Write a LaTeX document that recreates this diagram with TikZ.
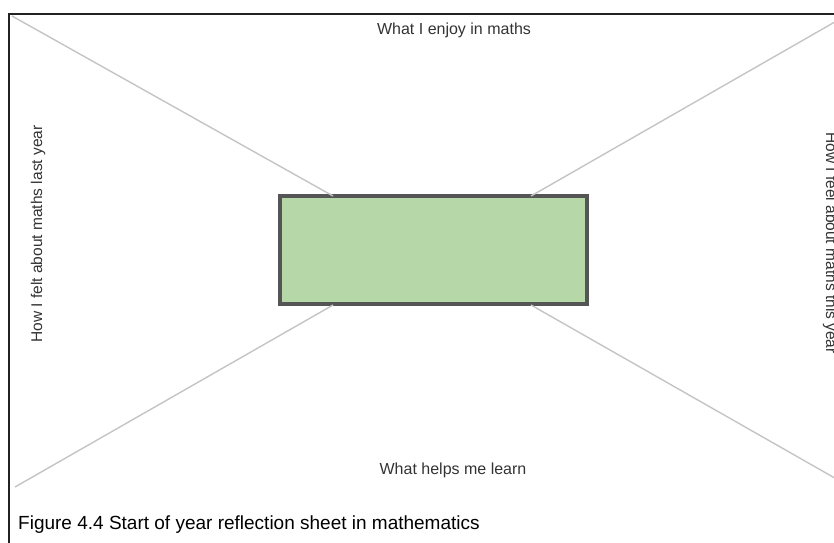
\documentclass[tikz,border=0pt]{standalone}
\usepackage{fontspec}
\setmainfont{Liberation Sans}
\definecolor{boxfill}{HTML}{B6D7A8}
\definecolor{boxline}{HTML}{555555}
\definecolor{diag}{HTML}{C4C4C4}
\definecolor{labeltxt}{HTML}{333333}
\definecolor{frameline}{HTML}{222222}
\begin{document}
\begin{tikzpicture}[x=1pt,y=-1pt,
  diagline/.style={draw=diag,line width=1.4pt},
  framestyle/.style={draw=frameline,line width=1.6pt},
  centrebox/.style={draw=boxline,fill=boxfill,line width=3.2pt,minimum width=307pt,minimum height=108pt,inner sep=0pt},
  sidelabel/.style={text=labeltxt,font=\fontsize{16}{19}\selectfont,inner sep=0pt},
  rotlabel/.style={text=labeltxt,font=\fontsize{15.5}{18}\selectfont,inner sep=0pt},
  captionstyle/.style={text=black,font=\fontsize{19}{22}\selectfont,inner sep=0pt,anchor=base west}]
\useasboundingbox (0,0) rectangle (834,542);
\clip (0,0) rectangle (834,542);
% frame
\coordinate (frtl) at (9,14);
\coordinate (frtr) at (840,14);
\coordinate (frbl) at (9,545);
\draw[framestyle] (frbl) -- (frtl) -- (frtr);
% centre box
\node[centrebox] (box) at (433.5,250) {};
% diagonal end points
\coordinate (ctl) at (12,16);
\coordinate (ctr) at (840,19);
\coordinate (cbl) at (15,487);
\coordinate (cbr) at (840,481);
\coordinate (btl) at (333,196);
\coordinate (btr) at (531,196);
\coordinate (bbl) at (333,305);
\coordinate (bbr) at (531,305);
\draw[diagline] (ctl) -- (btl);
\draw[diagline] (ctr) -- (btr);
\draw[diagline] (cbl) -- (bbl);
\draw[diagline] (cbr) -- (bbr);
% labels
\node[sidelabel] (top) at (454,30) {What I enjoy in maths};
\node[sidelabel] (bottom) at (453,470) {What helps me learn};
\node[rotlabel,rotate=90] (left) at (38,234) {How I felt about maths last year};
\node[rotlabel,rotate=-90] (right) at (830,243) {How I feel about maths this year};
\node[captionstyle] (caption) at (18,529) {Figure 4.4 Start of year reflection sheet in mathematics};
\end{tikzpicture}
\end{document}
